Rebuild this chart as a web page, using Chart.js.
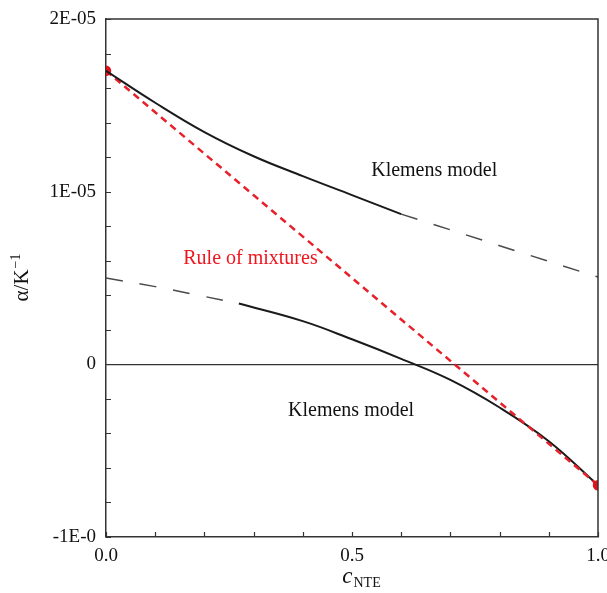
<!DOCTYPE html>
<html>
<head>
<meta charset="utf-8">
<script src="https://cdn.jsdelivr.net/npm/chart.js@4.4.1/dist/chart.umd.min.js"></script>
<style>
  html, body { margin: 0; padding: 0; background: #fff; }
  #wrap { width: 607px; height: 593px; }
</style>
</head>
<body>
<div id="wrap"><canvas id="alphaChart" width="607" height="593"></canvas></div>
<script>
// values (alpha in 1/K)
var upperSolidX = [0, 0.1, 0.2, 0.3, 0.4, 0.5, 0.6];
var upperSolidY = [1.70e-5, 1.515e-5, 1.345e-5, 1.205e-5, 1.09e-5, 0.98e-5, 0.87e-5];
var upperDashX = [0.6, 0.7, 0.8, 0.9, 1.0];
var upperDashY = [0.87e-5, 0.779e-5, 0.687e-5, 0.596e-5, 0.505e-5];

var lowerDashX = [0, 0.1, 0.2, 0.27];
var lowerDashY = [0.50e-5, 0.45e-5, 0.393e-5, 0.352e-5];
var lowerSolidX = [0.27, 0.4, 0.5, 0.6, 0.7, 0.8, 0.9, 1.0];
var lowerSolidY = [0.352e-5, 0.25e-5, 0.145e-5, 0.032e-5, -0.09e-5, -0.25e-5, -0.445e-5, -0.70e-5];

var ruleX = [0, 1];
var ruleY = [1.70e-5, -0.70e-5];

var xTickVals = [0, 0.5, 1];
var xTickLabels = ['0.0', '0.5', '1.0'];
var yTickVals = [2e-5, 1e-5, 0, -1e-5];
var yTickLabels = ['2E-05', '1E-05', '0', '-1E-0'];

function pts(xs, ys){
    var out = [];
    for (var i = 0; i < xs.length; i++) {
        out.push({x: xs[i], y: ys[i]});
    }
    return out;
}

function pickLabel(v, vals, labels, tol){
    for (var i = 0; i < vals.length; i++) {
        if (Math.abs(v - vals[i]) < tol) return labels[i];
    }
    return '';
}

var serif = "'Liberation Serif', 'DejaVu Serif', serif";

// text notes placed in data coordinates
var notes = [
    {text: 'Klemens model', x: 0.539, y: 1.123e-5, color: '#111'},
    {text: 'Rule of mixtures', x: 0.157, y: 0.614e-5, color: '#f0141e'},
    {text: 'Klemens model', x: 0.370, y: -0.266e-5, color: '#111'}
];

const decor = {
    id: 'decor',
    afterDraw(chart){
        const ctx = chart.ctx;
        const a = chart.chartArea;
        const xs = chart.scales.x;
        const ys = chart.scales.y;
        ctx.save();

        // frame top and right
        ctx.strokeStyle = '#333';
        ctx.lineWidth = 1.5;
        ctx.beginPath();
        ctx.moveTo(a.left, a.top);
        ctx.lineTo(a.right, a.top);
        ctx.lineTo(a.right, a.bottom);
        ctx.stroke();

        // inward ticks
        ctx.lineWidth = 1.2;
        ctx.beginPath();
        ys.ticks.forEach(function(t){
            var py = Math.round(ys.getPixelForValue(t.value)) + 0.5;
            ctx.moveTo(a.left, py);
            ctx.lineTo(a.left + 5, py);
        });
        xs.ticks.forEach(function(t){
            var px = Math.round(xs.getPixelForValue(t.value)) + 0.5;
            ctx.moveTo(px, a.bottom);
            ctx.lineTo(px, a.bottom - 5);
        });
        ctx.stroke();

        // notes
        ctx.font = '20px ' + serif;
        ctx.textAlign = 'left';
        ctx.textBaseline = 'middle';
        notes.forEach(function(n){
            ctx.fillStyle = n.color;
            ctx.fillText(n.text, xs.getPixelForValue(n.x), ys.getPixelForValue(n.y));
        });

        // x title: c_NTE
        ctx.fillStyle = '#111';
        ctx.textBaseline = 'alphabetic';
        ctx.font = 'italic 23px ' + serif;
        var cw = ctx.measureText('c').width;
        ctx.font = '14px ' + serif;
        var sw = ctx.measureText('NTE').width;
        var cx = (a.left + a.right) / 2 + 9 - (cw + sw) / 2;
        ctx.font = 'italic 23px ' + serif;
        ctx.fillText('c', cx, 583);
        ctx.font = '14px ' + serif;
        ctx.fillText('NTE', cx + cw + 1, 587);

        // y title: alpha/K^-1 rotated
        ctx.translate(22, (a.top + a.bottom) / 2);
        ctx.rotate(-Math.PI / 2);
        ctx.font = '21px ' + serif;
        var mw = ctx.measureText('\u03b1/K').width;
        ctx.font = '14px ' + serif;
        var ew = ctx.measureText('\u22121').width;
        var sx = -(mw + ew) / 2;
        ctx.textBaseline = 'middle';
        ctx.font = '21px ' + serif;
        ctx.fillText('\u03b1/K', sx, 0);
        ctx.font = '14px ' + serif;
        ctx.fillText('\u22121', sx + mw + 1, -6);

        ctx.restore();
    }
};

function makeAlphaChart(){
    const config = {
        type: 'scatter',
        data: {
            datasets: [
                {
                    data: pts(upperSolidX, upperSolidY),
                    showLine: true,
                    borderColor: '#1a1a1a',
                    borderWidth: 2,
                    pointRadius: 0,
                    tension: 0.4
                },
                {
                    data: pts(upperDashX, upperDashY),
                    showLine: true,
                    borderColor: '#4a4a4a',
                    borderWidth: 1.5,
                    borderDash: [17, 17],
                    pointRadius: 0
                },
                {
                    data: pts(lowerDashX, lowerDashY),
                    showLine: true,
                    borderColor: '#4a4a4a',
                    borderWidth: 1.5,
                    borderDash: [17, 17],
                    pointRadius: 0,
                    tension: 0.4
                },
                {
                    data: pts(ruleX, ruleY),
                    showLine: true,
                    borderColor: 'rgb(232, 32, 42)',
                    borderWidth: 2.5,
                    borderDash: [7, 5],
                    pointRadius: 4,
                    pointBackgroundColor: 'rgb(220, 20, 30)',
                    pointBorderColor: 'rgb(220, 20, 30)'
                },
                {
                    data: pts(lowerSolidX, lowerSolidY),
                    showLine: true,
                    borderColor: '#1a1a1a',
                    borderWidth: 2,
                    pointRadius: 0,
                    tension: 0.4
                }
            ]
        },
        options: {
            responsive: false,
            animation: false,
            layout: {
                padding: {top: 19, right: 9, bottom: 0, left: 0}
            },
            plugins: {
                legend: {display: false},
                tooltip: {enabled: false}
            },
            scales: {
                x: {
                    type: 'linear',
                    min: 0,
                    max: 1,
                    afterFit: function(s){
                        s.height = 56;
                        s.paddingLeft = 0;
                        s.paddingRight = 0;
                    },
                    border: {color: '#333', width: 1.5},
                    grid: {display: true, drawOnChartArea: false, drawTicks: false},
                    ticks: {
                        stepSize: 0.1,
                        autoSkip: false,
                        maxRotation: 0,
                        padding: 8,
                        color: '#111',
                        font: {family: serif, size: 19},
                        callback: function(v){
                            return pickLabel(v, xTickVals, xTickLabels, 1e-6);
                        }
                    }
                },
                y: {
                    type: 'linear',
                    min: -1e-5,
                    max: 2e-5,
                    afterFit: function(s){
                        s.width = 106;
                        s.paddingTop = 0;
                        s.paddingBottom = 0;
                    },
                    border: {color: '#333', width: 1.5},
                    grid: {
                        drawTicks: false,
                        lineWidth: 1.3,
                        color: function(c){
                            return (c.tick && Math.abs(c.tick.value) < 1e-12) ? '#333' : 'rgba(0,0,0,0)';
                        }
                    },
                    ticks: {
                        stepSize: 2e-6,
                        autoSkip: false,
                        padding: 10,
                        color: '#111',
                        font: {family: serif, size: 19},
                        callback: function(v){
                            return pickLabel(v, yTickVals, yTickLabels, 1e-10);
                        }
                    }
                }
            }
        },
        plugins: [decor]
    };

    const alphaChart = new Chart(
        document.getElementById('alphaChart'),
        config
    );
}

makeAlphaChart();
</script>
</body>
</html>
